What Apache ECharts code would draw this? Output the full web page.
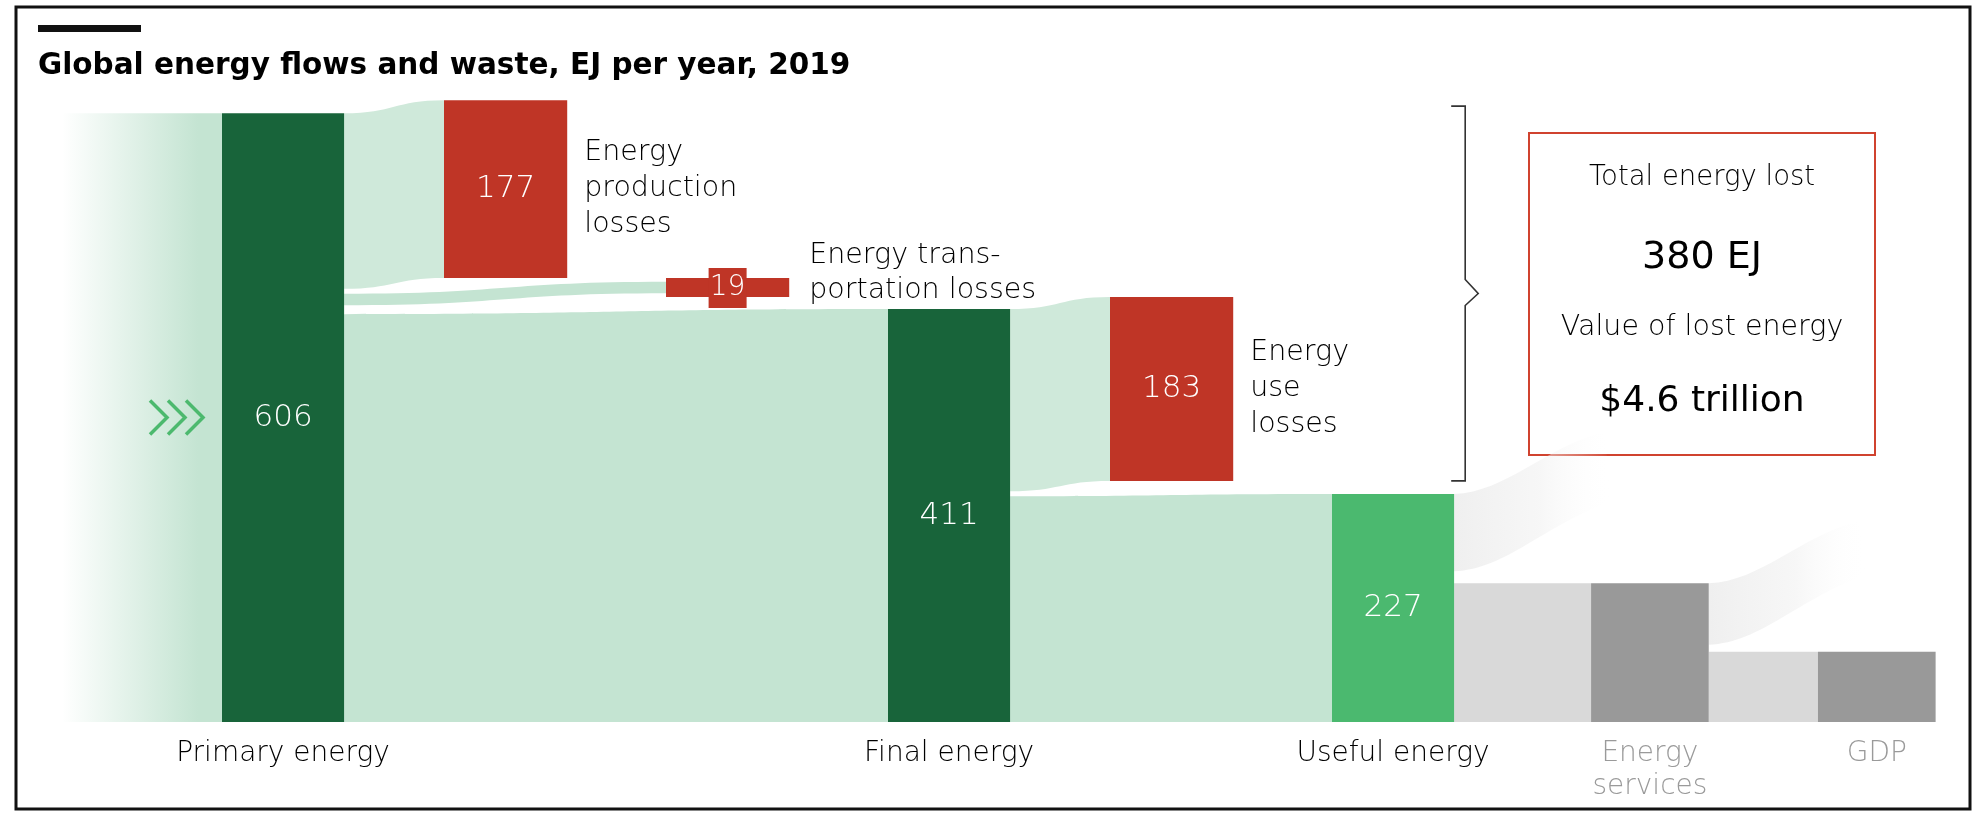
<!DOCTYPE html>
<html>
<head>
<meta charset="utf-8">
<script src="https://cdn.jsdelivr.net/npm/echarts@6/dist/echarts.min.js"></script>
<style>
html,body{margin:0;padding:0;background:#fff;}
#chart{width:1979px;height:819px;}
</style>
</head>
<body>
<div id="chart"></div>
<script>
// ---------------- DATA ----------------
const titleText = 'Global energy flows and waste, EJ per year, 2019';
const stageNames = ['Primary energy', 'Final energy', 'Useful energy', 'Energy\nservices', 'GDP'];
const stageValues = [606, 411, 227, 138, 70];          // EJ (services / GDP: illustrative bar heights)
const stageValueLabels = ['606', '411', '227', '', ''];
const lossNames = ['Energy\nproduction\nlosses', 'Energy trans-\nportation losses', 'Energy\nuse\nlosses'];
const lossValues = [177, 19, 183];
const lossValueLabels = ['177', '19', '183'];
const wasteValues = [77, 61];                          // faint unlabelled outflows after useful energy / services
const summaryLines = ['Total energy lost', '380 EJ', 'Value of lost energy', '$4.6 trillion'];

// ---------------- LAYOUT / STYLE ----------------
const STAGE_X = [0, 3, 5, 6.167, 7.189];
const STAGE_W = [0.55, 0.55, 0.55, 0.53, 0.53];
const LOSS_X = [1, 2, 4];
const LOSS_W = 0.555;
const BRACKET_X = 5.6;
const FONT = '"DejaVu Sans", "Noto Sans", sans-serif';
const LW = 200; // light weight for labels
const C = {
  dark: '#18643a', useful: '#4bb96f', red: '#bf3526', grayNode: '#999999', grayFlow: '#d9d9d9',
  flowMain: '#c4e4d2', flowLoss: '#cfe9da', text: '#000000', muted: '#9a9a9a', chevron: '#4cb96e'
};
const stageColors = [C.dark, C.dark, C.useful, C.grayNode, C.grayNode];
const stageLabelColors = [C.text, C.text, C.text, C.muted, C.muted];

// ---------------- derived layout (from values) ----------------
const [P, F, U, S, G] = stageValues;
const [LP, LT, LU] = lossValues;
const stageNodes = stageValues.map((v, i) => ({ x0: STAGE_X[i], x1: STAGE_X[i] + STAGE_W[i], y0: 0, y1: v }));
const transN = { x0: LOSS_X[1], x1: LOSS_X[1] + LOSS_W, y0: F + 12, y1: F + 12 + LT };
const prodN = { x0: LOSS_X[0], x1: LOSS_X[0] + LOSS_W, y0: transN.y1, y1: transN.y1 + LP };
const useN = { x0: LOSS_X[2], x1: LOSS_X[2] + LOSS_W, y0: transN.y0 - LU, y1: transN.y0 };
const lossNodes = [prodN, transN, useN];

// flows
const thin = 0.6, gapA = 9, gapB = 5, gapC = 5;
const sA = (P - gapA - gapB) / (F + LT * thin + LP);
const mainTop = F * sA;
const trS0 = mainTop + gapA, trS1 = trS0 + LT * thin * sA;
const trMid = (transN.y0 + transN.y1) / 2, trHalf = LT * thin * sA / 2;
const sC = (F - gapC) / (U + LU);
const links = [
  { sx: stageNodes[0].x1, tx: prodN.x0, s0: trS1 + gapB, s1: P, t0: prodN.y0, t1: prodN.y1, color: C.flowLoss },
  { sx: stageNodes[0].x1, tx: transN.x0, s0: trS0, s1: trS1, t0: trMid - trHalf, t1: trMid + trHalf, color: C.flowMain },
  { sx: stageNodes[0].x1, tx: stageNodes[1].x0, s0: 0, s1: mainTop, t0: 0, t1: F, color: C.flowMain },
  { sx: stageNodes[1].x1, tx: useN.x0, s0: U * sC + gapC, s1: F, t0: useN.y0, t1: useN.y1, color: C.flowLoss },
  { sx: stageNodes[1].x1, tx: stageNodes[2].x0, s0: 0, s1: U * sC, t0: 0, t1: U, color: C.flowMain },
  { sx: stageNodes[2].x1, tx: stageNodes[3].x0, s0: 0, s1: S, t0: 0, t1: S, color: C.grayFlow },
  { sx: stageNodes[3].x1, tx: stageNodes[4].x0, s0: 0, s1: G, t0: 0, t1: G, color: C.grayFlow }
];
const wastes = [
  { sx: stageNodes[2].x1, s0: U - wasteValues[0], s1: U },
  { sx: stageNodes[3].x1, s0: S - wasteValues[1], s1: S }
];

function linkPath(api, l) {
  const a0 = api.coord([l.sx, l.s1]), a1 = api.coord([l.sx, l.s0]);
  const b0 = api.coord([l.tx, l.t1]), b1 = api.coord([l.tx, l.t0]);
  const mx = (a0[0] + b0[0]) / 2;
  return 'M' + a0[0] + ' ' + a0[1] +
    ' C' + mx + ' ' + a0[1] + ' ' + mx + ' ' + b0[1] + ' ' + b0[0] + ' ' + b0[1] +
    ' L' + b1[0] + ' ' + b1[1] +
    ' C' + mx + ' ' + b1[1] + ' ' + mx + ' ' + a1[1] + ' ' + a1[0] + ' ' + a1[1] + ' Z';
}

function txt(text, x, y, size, color, align, valign, extra, weight) {
  return {
    type: 'text',
    style: Object.assign({
      text: text, x: x, y: y, fill: color, fontSize: size, fontFamily: FONT, fontWeight: weight || LW,
      align: align, verticalAlign: valign, textAlign: align, textVerticalAlign: valign
    }, extra || {})
  };
}
function gtext(text, x, y, size, weight, align) {
  return { type: 'text', style: { text: text, x: x, y: y, fill: '#000', fontSize: size, fontWeight: weight, fontFamily: FONT,
    align: align, verticalAlign: 'middle', textAlign: align, textVerticalAlign: 'middle' } };
}

const chart = echarts.init(document.getElementById('chart'), null, { renderer: 'canvas' });

const option = {
  backgroundColor: '#ffffff',
  animation: false,
  grid: { left: 0, right: 0, top: 69, bottom: 97 },
  xAxis: { type: 'value', min: -1, max: 1979 / 222 - 1, show: false },
  yAxis: { type: 'value', min: 0, max: 650, show: false },
  graphic: [
    { type: 'rect', shape: { x: 16, y: 7, width: 1954, height: 802 }, style: { fill: 'none', stroke: '#111', lineWidth: 3 }, z: 100 },
    { type: 'rect', shape: { x: 38, y: 25, width: 103, height: 7 }, style: { fill: '#111' } },
    gtext(titleText, 38, 66, 29.5, 700, 'left'),
    { type: 'rect', shape: { x: 1529, y: 133, width: 346, height: 322 }, style: { fill: '#fff', stroke: '#d0432f', lineWidth: 2 } },
    gtext(summaryLines[0], 1702, 178, 27.5, LW, 'center'),
    gtext(summaryLines[1], 1702, 258, 38, 400, 'center'),
    gtext(summaryLines[2], 1702, 328, 28.5, LW, 'center'),
    gtext(summaryLines[3], 1702, 402, 36, 400, 'center')
  ],
  series: [
    // inflow band + chevrons
    {
      type: 'custom', z: 1, data: [[ -0.72, P ]],
      renderItem: function (params, api) {
        const a = api.coord([-0.72, P]), b = api.coord([stageNodes[0].x0, 0]);
        const cy = api.coord([0, P / 2])[1];
        const children = [{
          type: 'rect', shape: { x: a[0], y: a[1], width: b[0] - a[0], height: b[1] - a[1] },
          style: { fill: new echarts.graphic.LinearGradient(0, 0, 1, 0, [
            { offset: 0, color: 'rgba(196,228,210,0)' }, { offset: 0.85, color: 'rgba(196,228,210,1)' }, { offset: 1, color: 'rgba(196,228,210,1)' }]) }
        }];
        for (let i = 0; i < 3; i++) {
          const tip = b[0] - 19 - 18 * (2 - i);
          children.push({ type: 'polyline', shape: { points: [[tip - 17, cy - 17], [tip, cy], [tip - 17, cy + 17]] },
            style: { stroke: C.chevron, lineWidth: 3.5, fill: 'none' } });
        }
        return { type: 'group', children: children };
      }
    },
    // flows
    {
      type: 'custom', z: 2, data: links.map(l => [l.sx, l.s1]),
      renderItem: function (params, api) {
        const l = links[params.dataIndex];
        return { type: 'path', shape: { pathData: linkPath(api, l) }, style: { fill: l.color } };
      }
    },
    // faint waste ribbons
    {
      type: 'custom', z: 2, data: wastes.map(w => [w.sx, w.s1]),
      renderItem: function (params, api) {
        const w = wastes[params.dataIndex];
        const a0 = api.coord([w.sx, w.s1]), a1 = api.coord([w.sx, w.s0]);
        const dx = 150, rise = 62;
        const p = 'M' + a0[0] + ' ' + a0[1] +
          ' C' + (a0[0] + dx * 0.35) + ' ' + (a0[1] - 2) + ' ' + (a0[0] + dx * 0.6) + ' ' + (a0[1] - rise * 0.75) + ' ' + (a0[0] + dx) + ' ' + (a0[1] - rise) +
          ' L' + (a1[0] + dx + 8) + ' ' + (a1[1] - rise - 8) +
          ' C' + (a1[0] + dx * 0.6) + ' ' + (a1[1] - rise * 0.75) + ' ' + (a1[0] + dx * 0.35) + ' ' + (a1[1] - 2) + ' ' + a1[0] + ' ' + a1[1] + ' Z';
        return { type: 'path', shape: { pathData: p }, style: { fill: new echarts.graphic.LinearGradient(0, 0, 1, 0, [
          { offset: 0, color: 'rgba(232,232,232,0.7)' }, { offset: 0.55, color: 'rgba(240,240,240,0.55)' }, { offset: 1, color: 'rgba(255,255,255,0)' }]) } };
      }
    },
    // stage nodes
    {
      type: 'custom', z: 3, data: stageNodes.map(n => [n.x0, n.y1]),
      renderItem: function (params, api) {
        const i = params.dataIndex, n = stageNodes[i];
        const a = api.coord([n.x0, n.y1]), b = api.coord([n.x1, n.y0]);
        const cx = (a[0] + b[0]) / 2, cy = (a[1] + b[1]) / 2;
        return { type: 'group', children: [
          { type: 'rect', shape: { x: a[0], y: a[1], width: b[0] - a[0], height: b[1] - a[1] }, style: { fill: stageColors[i] } },
          txt(stageValueLabels[i], cx, cy, 31, '#ffffff', 'center', 'middle'),
          txt(stageNames[i], cx, b[1] + 15, 28, stageLabelColors[i], 'center', 'top', { lineHeight: 33 })
        ] };
      }
    },
    // loss nodes
    {
      type: 'custom', z: 3, data: lossNodes.map(n => [n.x0, n.y1]),
      renderItem: function (params, api) {
        const i = params.dataIndex, n = lossNodes[i];
        const a = api.coord([n.x0, n.y1]), b = api.coord([n.x1, n.y0]);
        const cx = (a[0] + b[0]) / 2, cy = (a[1] + b[1]) / 2;
        const ch = [{ type: 'rect', shape: { x: a[0], y: a[1], width: b[0] - a[0], height: b[1] - a[1] }, style: { fill: C.red } }];
        if (i === 1) {
          ch.push({ type: 'rect', shape: { x: cx - 19, y: a[1] - 10, width: 38, height: b[1] - a[1] + 21 }, style: { fill: C.red } });
          ch.push(txt(lossValueLabels[i], cx, cy + 0.5, 28, '#ffffff', 'center', 'middle'));
          ch.push(txt(lossNames[i], b[0] + 20, b[1] + 11, 28.5, C.text, 'left', 'bottom', { lineHeight: 35 }));
        } else {
          ch.push(txt(lossValueLabels[i], cx, cy, 31, '#ffffff', 'center', 'middle'));
          ch.push(txt(lossNames[i], b[0] + 17, cy, 28.5, C.text, 'left', 'middle', { lineHeight: 36 }));
        }
        return { type: 'group', children: ch };
      }
    },
    // bracket spanning the losses
    {
      type: 'custom', z: 3, data: [[BRACKET_X, prodN.y1]],
      renderItem: function (params, api) {
        const top = api.coord([BRACKET_X, prodN.y1 - 6]), bot = api.coord([BRACKET_X, useN.y0]);
        const tipY = api.coord([BRACKET_X, (prodN.y1 - 6 + useN.y0) / 2])[1];
        const x = top[0];
        return { type: 'polyline', shape: { points: [[x - 14, top[1]], [x, top[1]], [x, tipY - 14], [x + 13, tipY], [x, tipY + 12], [x, bot[1]], [x - 14, bot[1]]] },
          style: { stroke: '#333', lineWidth: 1.6, fill: 'none' } };
      }
    }
  ]
};
chart.setOption(option);
</script>
</body>
</html>
